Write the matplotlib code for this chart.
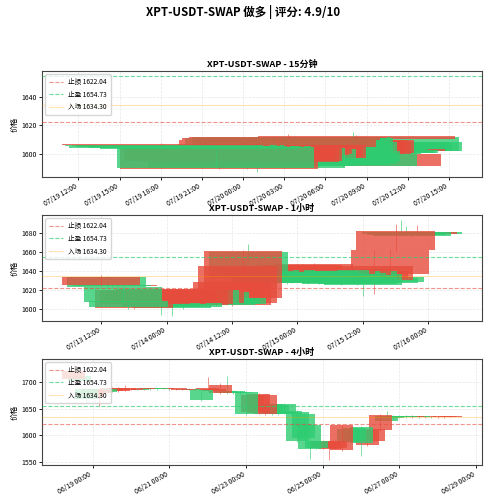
import matplotlib
matplotlib.use('Agg')
import matplotlib.pyplot as plt
import matplotlib.dates as mdates
from datetime import datetime, timedelta

plt.rcParams['font.family'] = ['Noto Sans CJK SC', 'DejaVu Sans']
plt.rcParams['axes.unicode_minus'] = False

SUPTITLE = 'XPT-USDT-SWAP 做多 | 评分: 4.9/10'
TITLES = ['XPT-USDT-SWAP - 15分钟', 'XPT-USDT-SWAP - 1小时', 'XPT-USDT-SWAP - 4小时']
STOP_LOSS = 1622.04
TAKE_PROFIT = 1654.73
ENTRY = 1634.30

# ---------------- 15 minute candles ----------------
m15_start = datetime(2025, 7, 19, 18, 0)
m15_open = [1607.0, 1605.2, 1604.0, 1606.4, 1604.6, 1605.0, 1606.3, 1604.6, 1604.2, 1606.0,
            1604.5, 1603.5, 1604.0, 1605.6, 1604.0, 1603.8, 1590.0, 1606.0, 1606.0, 1605.5,
            1606.0, 1605.0, 1606.0, 1605.5, 1606.0, 1590.0, 1604.0, 1604.0, 1591.0, 1606.0,
            1606.2, 1605.8, 1592.0, 1592.0, 1609.3, 1611.0, 1592.0, 1611.8, 1592.0, 1592.5,
            1593.0, 1594.0, 1609.5, 1609.5, 1609.0, 1609.5, 1591.0, 1600.0, 1600.3, 1600.5,
            1600.2, 1600.5, 1600.3, 1600.0, 1603.0, 1602.0, 1602.0, 1612.5, 1602.0, 1602.0]
m15_close = [1606.2, 1606.4, 1605.5, 1605.6, 1606.0, 1606.1, 1605.4, 1606.0, 1605.6, 1605.0,
             1605.6, 1605.2, 1605.5, 1604.6, 1605.0, 1605.2, 1605.0, 1589.5, 1595.0, 1595.5,
             1594.5, 1595.0, 1596.0, 1594.0, 1595.0, 1604.0, 1599.0, 1599.5, 1603.0, 1597.0,
             1597.5, 1597.0, 1601.0, 1601.6, 1605.0, 1609.3, 1611.0, 1611.2, 1611.5, 1610.7,
             1608.0, 1602.0, 1600.0, 1600.5, 1600.0, 1600.2, 1607.0, 1606.0, 1605.0, 1603.5,
             1602.5, 1602.0, 1602.5, 1591.3, 1601.6, 1607.9, 1608.0, 1610.0, 1611.7, 1607.9]
m15_high = [1607.4, 1606.8, 1606.0, 1606.8, 1606.4, 1606.5, 1606.6, 1606.3, 1606.0, 1606.4,
            1606.0, 1605.6, 1605.9, 1606.0, 1605.4, 1605.6, 1606.0, 1606.5, 1606.6, 1606.0,
            1606.5, 1605.5, 1607.0, 1606.0, 1606.5, 1604.8, 1604.5, 1604.6, 1603.5, 1606.8,
            1607.0, 1606.5, 1601.8, 1602.2, 1610.0, 1611.5, 1611.6, 1614.0, 1612.0, 1611.2,
            1608.6, 1602.5, 1610.0, 1610.2, 1609.6, 1610.0, 1607.5, 1606.5, 1605.5, 1604.0,
            1603.0, 1602.5, 1603.0, 1600.5, 1603.5, 1608.4, 1615.0, 1613.0, 1612.2, 1608.4]
m15_low = [1605.8, 1604.9, 1603.8, 1605.2, 1604.3, 1604.7, 1605.0, 1604.2, 1603.9, 1604.6,
           1604.2, 1603.2, 1603.7, 1604.3, 1603.6, 1603.5, 1589.8, 1589.0, 1593.0, 1594.0,
           1592.5, 1593.5, 1594.0, 1592.0, 1594.0, 1589.5, 1598.0, 1598.5, 1587.0, 1596.0,
           1596.5, 1596.0, 1591.0, 1591.2, 1604.5, 1608.8, 1591.5, 1610.8, 1591.5, 1592.0,
           1592.5, 1593.5, 1599.5, 1600.0, 1599.4, 1599.6, 1590.5, 1599.5, 1599.8, 1600.0,
           1599.8, 1600.0, 1599.8, 1590.8, 1601.2, 1601.6, 1601.6, 1609.5, 1601.6, 1601.8]

# ---------------- 1 hour candles ----------------
h1_start = datetime(2025, 7, 13, 12, 0)
h1_open = [1634.0, 1623.0, 1624.0, 1625.0, 1607.0, 1602.0, 1620.0, 1620.0, 1619.0, 1620.0,
           1621.0, 1602.0, 1620.0, 1601.0, 1619.0, 1602.0, 1620.0, 1621.0, 1606.0, 1620.0,
           1605.0, 1604.0, 1605.0, 1605.0, 1628.0, 1645.0, 1661.0, 1633.0, 1643.0, 1634.0,
           1643.0, 1629.0, 1628.0, 1644.0, 1627.0, 1628.0, 1646.0, 1646.0, 1627.0, 1647.0,
           1627.0, 1628.0, 1628.0, 1641.0, 1626.0, 1627.0, 1642.0, 1626.0, 1625.0, 1640.0,
           1645.0, 1627.0, 1628.0, 1662.0, 1682.0, 1679.0, 1678.0, 1677.0, 1681.0, 1679.0]
h1_close = [1625.0, 1634.0, 1625.0, 1624.5, 1623.0, 1608.0, 1601.5, 1605.0, 1606.0, 1605.5,
            1606.0, 1606.0, 1605.0, 1605.0, 1606.0, 1606.0, 1604.0, 1605.0, 1620.0, 1606.0,
            1618.0, 1612.0, 1612.0, 1612.0, 1604.0, 1606.0, 1612.0, 1660.0, 1640.0, 1641.0,
            1639.0, 1640.0, 1641.0, 1640.0, 1640.0, 1639.0, 1640.0, 1641.0, 1640.0, 1641.0,
            1640.0, 1638.0, 1641.0, 1637.0, 1640.0, 1638.0, 1636.0, 1640.0, 1637.0, 1633.0,
            1631.0, 1633.0, 1634.0, 1637.0, 1662.0, 1681.0, 1681.5, 1681.0, 1679.0, 1681.0]
h1_high = [1636.0, 1635.0, 1626.0, 1626.0, 1624.0, 1609.0, 1621.0, 1621.0, 1620.0, 1621.0,
           1622.0, 1607.0, 1621.0, 1606.0, 1620.0, 1607.0, 1621.0, 1622.0, 1621.0, 1621.0,
           1619.0, 1613.0, 1613.0, 1613.0, 1629.0, 1646.0, 1662.0, 1669.0, 1644.0, 1642.0,
           1644.0, 1641.0, 1642.0, 1645.0, 1641.0, 1640.0, 1647.0, 1647.0, 1641.0, 1648.0,
           1641.0, 1639.0, 1642.0, 1642.0, 1641.0, 1639.0, 1643.0, 1641.0, 1638.0, 1641.0,
           1662.0, 1634.0, 1635.0, 1663.0, 1690.0, 1694.0, 1688.0, 1682.0, 1689.0, 1682.0]
h1_low = [1624.0, 1622.0, 1623.0, 1623.5, 1605.0, 1600.0, 1600.5, 1604.0, 1605.0, 1604.0,
          1605.0, 1594.0, 1604.0, 1592.5, 1605.0, 1600.0, 1603.0, 1604.0, 1605.0, 1605.0,
          1604.0, 1603.0, 1604.0, 1604.0, 1603.0, 1605.0, 1611.0, 1632.0, 1639.0, 1633.0,
          1638.0, 1628.0, 1627.0, 1639.0, 1626.0, 1627.0, 1639.0, 1640.0, 1626.0, 1640.0,
          1626.0, 1627.0, 1627.0, 1636.0, 1625.0, 1626.0, 1635.0, 1625.0, 1614.0, 1632.0,
          1616.0, 1626.0, 1627.0, 1636.0, 1661.0, 1678.0, 1677.0, 1676.0, 1678.0, 1678.0]

# ---------------- 4 hour candles ----------------
h4_start = datetime(2025, 6, 18, 12, 0)
h4_open = [1722, 1702, 1669, 1688, 1686, 1682, 1689, 1689, 1689, 1688,
           1686, 1689, 1687, 1687.5, 1689, 1687, 1689, 1688.5, 1686, 1688,
           1666, 1689, 1688, 1696, 1680, 1680.5, 1680, 1640, 1677, 1678,
           1676, 1641, 1640, 1642, 1641, 1590, 1595, 1575, 1576, 1590,
           1588, 1590, 1620, 1588, 1590, 1585, 1610, 1612, 1638, 1628,
           1632, 1634, 1634.5, 1636.5, 1634, 1636, 1634, 1635.5, 1636, 1636]
h4_close = [1706, 1712, 1688, 1672, 1680, 1688, 1684, 1683, 1685, 1686,
            1688.5, 1687, 1689, 1689, 1688, 1688.5, 1687, 1686.5, 1688, 1686,
            1685, 1685, 1684, 1680, 1683, 1683, 1682.5, 1682, 1645, 1642,
            1640, 1660, 1658, 1660, 1646, 1645, 1640, 1620, 1590, 1576,
            1574, 1576, 1572, 1612, 1614, 1615, 1582, 1590, 1610, 1637,
            1637, 1636.5, 1636.5, 1634.5, 1636, 1634, 1635.5, 1634, 1634.5, 1635]
h4_high = [1735, 1716, 1690, 1690, 1688, 1690, 1691, 1691, 1695, 1690,
           1690, 1690, 1690, 1690, 1690, 1689.5, 1690, 1689.5, 1689, 1689,
           1687, 1710, 1690, 1698, 1713, 1685, 1684, 1684, 1680, 1680,
           1678, 1662, 1660, 1662, 1648, 1647, 1642, 1622, 1592, 1592,
           1590, 1592, 1622, 1614, 1616, 1617, 1612, 1614, 1640, 1646,
           1639, 1638, 1638, 1637.5, 1637, 1637, 1636.5, 1636.5, 1637, 1637]
h4_low = [1700, 1700, 1665, 1668, 1655, 1680, 1682, 1681, 1683, 1685,
          1685, 1686, 1686, 1686.5, 1687, 1686, 1686, 1685.5, 1685, 1685,
          1664, 1684, 1682, 1678, 1679, 1679, 1678, 1638, 1643, 1640,
          1638, 1639, 1638, 1640, 1639, 1588, 1593, 1555, 1574, 1574,
          1553, 1574, 1570, 1586, 1588, 1560, 1580, 1588, 1608, 1626,
          1630, 1633, 1633.5, 1633.5, 1633, 1633, 1633, 1633, 1633.5, 1634]

RED = '#e74c3c'
GREEN = '#2ecc71'


def make_times(start, step, n):
    return [start + step * i for i in range(n)]


def draw_panel(ax, times, o, h, l, c, title, locator):
    x = mdates.date2num(times)
    n = len(x)
    # data arrives newest-first, so older candles end up on top
    for i in range(n - 1, -1, -1):
        col = GREEN if c[i] >= o[i] else RED
        z = 1.0 + (n - i) / n
        ax.plot([x[i], x[i]], [l[i], h[i]], color=col, lw=0.7, alpha=0.6,
                zorder=z - 0.4 / n, solid_capstyle='butt')
        ax.bar(x[i], abs(c[i] - o[i]), bottom=min(o[i], c[i]), width=0.6,
               color=col, alpha=0.8, zorder=z, linewidth=0)
    ax.axhline(STOP_LOSS, color=RED, ls='--', lw=0.8, alpha=0.6, zorder=3,
               label=f'止损 {STOP_LOSS:.2f}')
    ax.axhline(TAKE_PROFIT, color=GREEN, ls='--', lw=0.8, alpha=0.7, zorder=3,
               label=f'止盈 {TAKE_PROFIT:.2f}')
    ax.axhline(ENTRY, color='orange', ls='-', lw=0.8, alpha=0.3, zorder=3,
               label=f'入场 {ENTRY:.2f}')
    ax.set_title(title, fontsize=6.5, fontweight='bold', pad=3)
    ax.set_ylabel('价格', fontsize=5.5, labelpad=2)
    ax.xaxis.set_major_locator(locator)
    ax.xaxis.set_major_formatter(mdates.DateFormatter('%m/%d %H:%M'))
    ax.tick_params(axis='both', labelsize=5, length=2.5, width=0.6, pad=1.5)
    for lab in ax.get_xticklabels():
        lab.set_rotation(30)
        lab.set_ha('right')
    ax.grid(True, alpha=0.3, lw=0.5, ls='--')
    ax.set_axisbelow(True)
    for sp in ax.spines.values():
        sp.set_color('#444444')
        sp.set_linewidth(0.8)
    ax.legend(loc='upper left', fontsize=4.8, framealpha=0.8,
              handlelength=2.0, borderpad=0.6, labelspacing=0.65,
              edgecolor='#cccccc')


fig, axes = plt.subplots(3, 1, figsize=(4.87, 5.0), dpi=100)
fig.subplots_adjust(left=42 / 487, right=482 / 487, top=1 - 71 / 500,
                    bottom=1 - 465 / 500, hspace=0.36)

draw_panel(axes[0], make_times(m15_start, timedelta(minutes=15), len(m15_open)),
           m15_open, m15_high, m15_low, m15_close, TITLES[0],
           mdates.HourLocator(byhour=range(0, 24, 3)))
draw_panel(axes[1], make_times(h1_start, timedelta(hours=1), len(h1_open)),
           h1_open, h1_high, h1_low, h1_close, TITLES[1],
           mdates.HourLocator(byhour=[0, 12]))
draw_panel(axes[2], make_times(h4_start, timedelta(hours=4), len(h4_open)),
           h4_open, h4_high, h4_low, h4_close, TITLES[2],
           mdates.DayLocator(bymonthday=range(1, 32, 2)))

fig.suptitle(SUPTITLE, fontsize=8.3, fontweight='bold', y=0.99, va='top')
fig.savefig('out.png', dpi=100)
